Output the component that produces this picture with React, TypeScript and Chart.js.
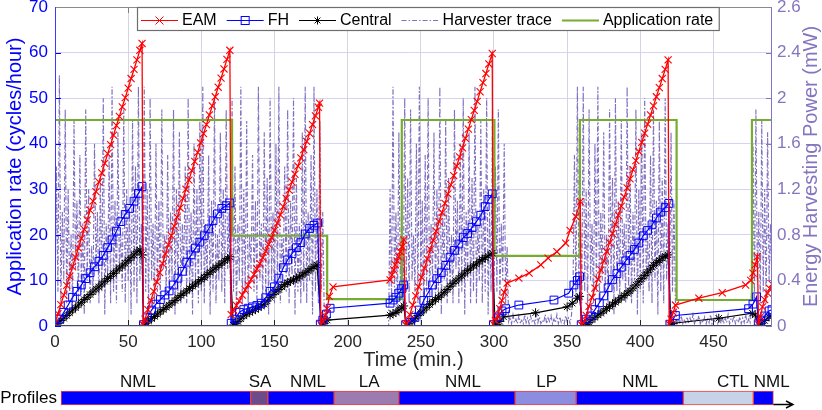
import React, { useEffect, useRef } from 'react';
import { Chart, registerables } from 'chart.js';

Chart.register(...registerables);

const FONT = "'Liberation Sans', Arial, Helvetica, sans-serif";
Chart.defaults.font.family = FONT;

// ---------------- data ----------------
const xTickValues = [0, 50, 100, 150, 200, 250, 300, 350, 400, 450];
const y2TickValues = [0, 0.4, 0.8, 1.2, 1.6, 2, 2.4, 2.8];
const y2TickLabels = ['0', '0.4', '0.8', '1.2', '1.6', '2', '2.4', '2.6'];

const eamTime = [
  0, 2, 4, 6, 8, 10, 12, 14, 16, 18, 20, 22, 24, 26, 28, 30, 32, 34, 36, 38, 40, 42, 44, 46, 48, 50, 52, 54, 56, 58, 59.5,
  60.3, 61.5, 63.5, 65.5, 67.5, 69.5, 71.5, 73.5, 75.5, 77.5, 79.5, 81.5, 83.5, 85.5, 87.5, 89.5, 91.5, 93.5, 95.5, 97.5, 99.5, 101.5, 103.5, 105.5, 107.5, 109.5, 111.5, 113.5, 115.5, 117.5, 119.5,
  120.4, 122, 124, 126, 128, 130, 132, 134, 136, 138, 140, 142, 144, 146, 148, 150, 152, 154, 156, 158, 160, 162, 164, 166, 168, 170, 172, 174, 176, 178, 180, 180.8,
  181.6, 183, 184.5, 186, 187.5, 190, 229, 230.3, 231.5, 232.6, 233.8, 234.9, 236, 237.2, 238.3,
  239.6, 240.5, 242.5, 244.5, 246.5, 248.5, 250.5, 252.5, 254.5, 256.5, 258.5, 260.5, 262.5, 264.5, 266.5, 268.5, 270.5, 272.5, 274.5, 276.5, 278.5, 280.5, 282.5, 284.5, 286.5, 288.5, 290.5, 292.5, 294.5, 296.5, 298.8,
  299.5, 301, 302.5, 304, 305.5, 307, 309, 317, 324, 332, 337, 343, 349, 352, 356, 359,
  359.6, 361, 363, 365, 367, 369, 371, 373, 375, 377, 379, 381, 383, 385, 387, 389, 391, 393, 395, 397, 399, 401, 403, 405, 407, 409, 411, 413, 415, 417, 419,
  419.7, 421, 422.5, 424, 440, 456, 472, 475.5, 477, 478.5, 480,
  480.8, 482, 483.5, 485, 487, 488.5, 490,
];
const eamRate = [
  0.6, 2.7, 4.7, 6.8, 8.9, 10.9, 13.0, 15.1, 17.1, 19.2, 21.2, 23.3, 25.4, 27.4, 29.5, 31.6, 33.6, 35.7, 37.8, 39.8, 41.9, 44.0, 46.0, 48.1, 50.1, 52.2, 54.3, 56.3, 58.4, 60.5, 62.0,
  0.3, 1.5, 3.6, 5.6, 7.6, 9.7, 11.7, 13.7, 15.8, 17.8, 19.8, 21.9, 23.9, 25.9, 28.0, 30.0, 32.0, 34.1, 36.1, 38.1, 40.2, 42.2, 44.2, 46.3, 48.3, 50.3, 52.4, 54.4, 56.4, 58.5, 60.5,
  2.5, 3.5, 4.5, 5.5, 6.8, 7.9, 9.0, 10.2, 11.3, 12.5, 13.7, 15.0, 16.4, 17.9, 19.4, 21.0, 22.6, 24.4, 26.2, 28.0, 29.8, 31.6, 33.3, 35.1, 36.9, 38.7, 40.5, 42.3, 44.2, 46.1, 48.0, 48.9,
  0.4, 0.9, 2.2, 3.8, 6.5, 8.6, 10.1, 11.2, 12.3, 13.4, 14.3, 15.2, 16.3, 17.4, 18.9,
  0.3, 0.5, 2.5, 4.6, 6.6, 8.6, 10.7, 12.7, 14.7, 16.8, 18.8, 20.8, 22.9, 24.9, 26.9, 29.0, 31.0, 33.0, 35.1, 37.1, 39.1, 41.2, 43.2, 45.3, 47.3, 49.3, 51.4, 53.4, 55.4, 57.5, 59.8,
  0.4, 1.2, 2.2, 3.8, 5.6, 7.4, 9.4, 10.5, 11.6, 13.4, 14.9, 16.3, 18.2, 21.0, 24.0, 27.3,
  0.3, 0.6, 2.3, 4.3, 6.3, 8.3, 10.3, 12.3, 14.3, 16.3, 18.3, 20.3, 22.3, 24.3, 26.3, 28.3, 30.3, 32.3, 34.3, 36.3, 38.3, 40.3, 42.3, 44.3, 46.3, 48.3, 50.3, 52.3, 54.3, 56.3, 58.4,
  0.4, 1.5, 3.0, 4.6, 6.1, 7.3, 9.0, 10.0, 11.6, 13.4, 15.2,
  0.4, 2.0, 4.2, 5.8, 7.2, 8.2, 9.2,
];

const fhTime = [
  0, 3, 6, 9, 12, 15, 18, 21, 24, 27, 30, 33, 36, 39, 42, 45, 48, 51, 54, 57, 59.5,
  60.4, 63, 66, 69, 72, 75, 78, 81, 84, 87, 90, 93, 96, 99, 102, 105, 108, 111, 114, 117, 119.5,
  120.4, 123, 126, 129, 132, 135, 138, 141, 144, 147, 150, 153, 156, 159, 162, 165, 168, 171, 174, 177, 179.5,
  181.3, 183, 185.5, 188, 229, 231, 233, 235, 237, 238.3,
  239.6, 243, 246, 249, 252, 255, 258, 261, 264, 267, 270, 273, 276, 279, 282, 285, 288, 291, 294, 296.5, 298.8,
  299.6, 303, 305.5, 308, 317, 341, 351, 354.6, 357, 358.5,
  359.6, 363, 366, 369, 372, 375, 378, 381, 384, 387, 390, 393, 396, 399, 402, 405, 408, 411, 414, 417, 419.5,
  420.2, 424, 474, 477, 479.5,
  480.6, 482.4, 485, 488, 490,
];
const fhRate = [
  0.2, 1.5, 3.0, 4.6, 6.3, 7.6, 9.0, 10.4, 11.7, 13.0, 14.2, 15.5, 17.2, 18.9, 20.8, 22.9, 24.5, 25.8, 27.4, 29.1, 30.6,
  0.3, 1.8, 3.5, 4.8, 5.8, 6.8, 7.7, 9.0, 10.5, 12.0, 14.0, 15.6, 17.1, 18.4, 19.8, 21.3, 23.1, 24.6, 25.8, 26.4, 27.0,
  0.6, 1.5, 3.0, 3.6, 3.9, 4.2, 4.5, 5.0, 6.2, 7.6, 8.6, 10.5, 12.8, 14.5, 15.9, 17.2, 18.3, 20.2, 21.4, 22.1, 22.6,
  0.4, 1.3, 2.6, 3.9, 5.0, 5.7, 6.3, 7.2, 8.2, 9.0,
  0.3, 0.8, 1.9, 3.5, 5.6, 7.3, 9.0, 10.4, 11.7, 13.3, 15.1, 16.6, 18.0, 19.4, 20.3, 21.6, 22.9, 24.3, 26.2, 27.8, 29.0,
  0.3, 2.0, 3.3, 3.8, 4.6, 5.7, 7.2, 9.0, 10.0, 10.8,
  0.3, 1.5, 2.2, 3.6, 5.1, 6.6, 8.4, 10.2, 11.5, 12.9, 14.3, 15.5, 16.8, 18.2, 19.8, 21.0, 22.2, 23.7, 25.0, 26.0, 26.9,
  0.4, 2.3, 3.8, 4.8, 6.4,
  0.5, 1.3, 2.2, 3.3, 3.6,
];

const centralTime = [
  0, 2, 4, 6, 8, 10, 12, 14, 16, 18, 20, 22, 24, 26, 28, 30, 32, 34, 36, 38, 40, 42, 44, 46, 48, 50, 52, 54, 56, 58, 59.5,
  60.6, 62, 64, 66, 68, 70, 72, 74, 76, 78, 80, 82, 84, 86, 88, 90, 92, 94, 96, 98, 100, 102, 104, 106, 108, 110, 112, 114, 116, 118, 119.5,
  121.8, 123.5, 125, 127, 129, 131, 133, 135, 137, 139, 141, 143, 145, 147, 149, 151, 153, 155, 157, 159, 161, 163, 165, 167, 169, 171, 173, 175, 177, 179,
  182.3, 184, 186, 229, 231, 233, 235, 237, 238.3,
  240, 242, 244, 246, 248, 250, 252, 254, 256, 258, 260, 262, 264, 266, 268, 270, 272, 274, 276, 278, 280, 282, 284, 286, 288, 290, 292, 294, 296, 298.8,
  300.8, 302, 304, 306.6, 328.4, 350, 353.5, 357, 358.5,
  360.5, 363, 365, 367, 369, 371, 373, 375, 377, 379, 381, 383, 385, 387, 389, 391, 393, 395, 397, 399, 401, 403, 405, 407, 409, 411, 413, 415, 417, 419,
  421, 422.5, 453.6, 476.6, 478.5,
  481, 483, 485, 488, 490,
];
const centralRate = [
  0, 0.6, 1.2, 1.7, 2.3, 2.9, 3.5, 4.0, 4.6, 5.2, 5.8, 6.3, 6.9, 7.5, 8.1, 8.6, 9.2, 9.8, 10.4, 10.9, 11.5, 12.1, 12.7, 13.2, 13.8, 14.4, 15.0, 15.6, 16.3, 16.7, 15.6,
  0.2, 0.6, 1.1, 1.6, 2.1, 2.6, 3.1, 3.6, 4.1, 4.6, 5.1, 5.6, 6.2, 6.7, 7.2, 7.7, 8.2, 8.7, 9.2, 9.7, 10.2, 10.7, 11.3, 11.8, 12.3, 12.8, 13.3, 13.8, 14.3, 14.8, 15.2,
  0.2, 0.5, 1.0, 1.6, 2.2, 2.6, 3.0, 3.3, 3.6, 4.0, 4.4, 4.8, 5.5, 6.3, 6.9, 7.5, 8.0, 8.6, 9.1, 9.5, 9.8, 10.1, 10.5, 10.8, 11.2, 11.7, 12.1, 12.6, 13.0, 13.4,
  0.1, 0.6, 1.3, 2.4, 2.7, 3.0, 3.5, 4.0, 4.4,
  0.1, 0.5, 1.1, 1.6, 2.3, 2.9, 3.5, 4.1, 4.7, 5.3, 5.8, 6.3, 6.8, 7.4, 8.0, 8.7, 9.3, 9.9, 10.5, 11.0, 11.6, 12.2, 12.7, 13.2, 13.6, 14.1, 14.6, 15.0, 15.4, 16.0,
  0.1, 0.3, 1.0, 2.0, 2.9, 4.2, 5.0, 6.1, 6.5,
  0.1, 0.3, 0.8, 1.4, 1.9, 2.4, 2.8, 3.3, 3.8, 4.3, 4.8, 5.2, 5.7, 6.2, 6.7, 7.2, 7.7, 8.3, 9.0, 9.7, 10.4, 11.1, 11.8, 12.5, 13.3, 13.9, 14.4, 14.9, 15.3, 15.6,
  0.2, 0.6, 1.7, 2.8, 2.4,
  0.2, 0.6, 1.2, 2.0, 2.3,
];

const appTime = [0, 121, 121, 186, 186, 237, 237, 300.3, 300.3, 358.7, 358.7, 424.8, 424.8, 476.3, 476.3, 490];
const appRate = [45.2, 45.2, 19.8, 19.8, 5.9, 5.9, 45.2, 45.2, 15.4, 15.4, 45.2, 45.2, 5.7, 5.7, 45.2, 45.2];

// harvester power (mW), one sample per minute starting at t = 0
const harvesterStepMin = 1;
const harvesterPower = [
  // 0-184
  0.1, 1.4, 0.3, 2.2, 0.2, 1.0, 0.4, 1.9, 0.2, 1.2,
  0.3, 0.8, 0.2, 1.8, 0.5, 1.1, 0.2, 1.5, 0.3, 0.9,
  0.1, 1.9, 0.4, 1.2, 0.2, 0.7, 0.3, 1.6, 0.5, 1.0,
  0.2, 1.3, 0.3, 2.0, 0.1, 0.9, 0.4, 1.5, 0.2, 2.1,
  0.3, 1.1, 0.2, 1.7, 0.5, 0.8, 0.3, 1.9, 0.2, 1.2,
  0.4, 1.0, 0.1, 1.8, 0.3, 1.4, 0.2, 2.1, 0.4, 0.9,
  0.2, 2.1, 0.3, 1.2, 0.1, 2.0, 0.4, 0.9, 0.2, 1.6,
  0.3, 1.1, 0.2, 1.9, 0.5, 0.8, 0.3, 1.5, 0.2, 1.0,
  0.4, 1.9, 0.1, 1.2, 0.3, 1.7, 0.2, 0.9, 0.5, 1.4,
  0.2, 2.0, 0.3, 1.0, 0.1, 1.6, 0.4, 1.2, 0.2, 1.8,
  0.3, 2.1, 0.2, 0.9, 0.4, 1.5, 0.1, 1.1, 0.3, 2.0,
  0.2, 0.8, 0.4, 1.7, 0.3, 1.2, 0.2, 1.9, 0.5, 1.0,
  0.2, 2.0, 0.3, 1.4, 0.1, 0.9, 0.4, 2.1, 0.2, 1.2,
  0.3, 1.8, 0.2, 0.8, 0.5, 1.5, 0.3, 1.1, 0.2, 2.1,
  0.4, 0.9, 0.2, 1.7, 0.3, 1.3, 0.1, 2.0, 0.4, 1.0,
  0.2, 1.6, 0.3, 2.1, 0.2, 0.8, 0.5, 1.4, 0.3, 1.9,
  0.2, 1.1, 0.4, 2.0, 0.1, 1.3, 0.3, 0.9, 0.2, 1.7,
  0.3, 2.1, 0.2, 1.0, 0.4, 1.5, 0.1, 2.1, 0.3, 1.2,
  0.2, 1.8, 0.3, 1.0, 0.1,
  // 185-228
  0, 0, 0, 0, 0, 0, 0, 0, 0, 0,
  0, 0, 0, 0, 0, 0, 0, 0, 0, 0,
  0, 0, 0, 0, 0, 0, 0, 0, 0, 0,
  0, 0, 0, 0, 0, 0, 0, 0, 0, 0,
  0, 0, 0, 0,
  // 229-309
  1.2, 0.2, 2.1, 0.3, 1.0, 0.1, 1.7, 0.4, 0.9, 0.2, 2.0,
  0.3, 1.3, 0.2, 1.9, 0.4, 0.8, 0.3, 1.6, 0.2, 2.1,
  0.4, 1.1, 0.1, 1.5, 0.3, 2.0, 0.2, 0.9, 0.4, 1.7,
  0.2, 1.2, 0.3, 2.1, 0.1, 1.0, 0.4, 1.8, 0.2, 1.3,
  0.3, 0.8, 0.2, 1.9, 0.5, 1.1, 0.2, 1.6, 0.3, 2.0,
  0.1, 1.0, 0.4, 1.7, 0.2, 1.3, 0.3, 2.1, 0.2, 0.9,
  0.4, 1.8, 0.2, 1.2, 0.3, 2.0, 0.1, 1.0, 0.3, 1.9,
  0.2, 1.4, 0.3, 1.9, 0.2, 0.9, 0.4, 1.6, 0.2, 0.7,
  // 310-353
  0.04, 0.08, 0.02, 0.10, 0.03, 0.06, 0.02, 0.09, 0.03, 0.05,
  0.02, 0.10, 0.03, 0.07, 0.02, 0.09, 0.04, 0.06, 0.02, 0.10,
  0.03, 0.08, 0.02, 0.05, 0.03, 0.10, 0.02, 0.07, 0.04, 0.09,
  0.02, 0.06, 0.03, 0.10, 0.02, 0.08, 0.03, 0.05, 0.02, 0.09,
  0.04, 0.07, 0.02, 0.10,
  // 354-424
  0.3, 1.5, 0.2, 2.1, 0.4, 1.0,
  0.2, 2.1, 0.3, 1.2, 0.1, 1.9, 0.4, 0.9, 0.2, 1.6,
  0.3, 2.1, 0.2, 1.0, 0.4, 1.7, 0.3, 0.8, 0.2, 1.9,
  0.4, 1.3, 0.1, 2.0, 0.3, 1.1, 0.2, 1.8, 0.4, 0.9,
  0.2, 2.1, 0.3, 1.4, 0.2, 1.0, 0.4, 1.9, 0.1, 1.2,
  0.3, 1.7, 0.2, 2.0, 0.4, 0.8, 0.3, 1.5, 0.2, 1.9,
  0.4, 1.1, 0.1, 1.8, 0.3, 1.3, 0.2, 2.0, 0.4, 0.9,
  0.2, 1.7, 0.3, 1.1, 0.2,
  // 425-475
  0.02, 0.06, 0.03, 0.09, 0.02, 0.05, 0.03, 0.08, 0.02, 0.07,
  0.03, 0.10, 0.02, 0.06, 0.04, 0.09, 0.02, 0.05, 0.03, 0.08,
  0.02, 0.07, 0.03, 0.10, 0.02, 0.06, 0.04, 0.09, 0.02, 0.05,
  0.03, 0.08, 0.02, 0.07, 0.03, 0.10, 0.02, 0.06, 0.04, 0.09,
  0.02, 0.05, 0.03, 0.08, 0.02, 0.07, 0.03, 0.10, 0.02, 0.06,
  0.03,
  // 476-490
  0.3, 1.6, 0.2, 1.9, 0.4, 1.0, 0.2, 1.8, 0.3, 1.2, 0.2, 1.7, 0.4, 0.9, 0.3,
];

// profiles timeline (same minute units as the time axis)
const profileRow = ['Profiles'];
const profileNames = ['NML', 'SA', 'NML', 'LA', 'NML', 'LP', 'NML', 'CTL', 'NML'];
const profileStart = [4.1, 133.7, 145.4, 190.7, 234.9, 314.4, 356.1, 429.4, 477.2];
const profileEnd = [133.7, 145.4, 190.7, 234.9, 314.4, 356.1, 429.4, 477.2, 490.9];
const profileLabelAt = [56.7, 140.1, 172.9, 214.6, 278.8, 336.0, 399.8, 463.3, 489.8];
const profileArrowEnd = 504.3;
const profileColors = ['#0000FF', '#6B4B8A', '#0000FF', '#9C7BB0', '#0000FF', '#8C8CE0', '#0000FF', '#C6D2E8', '#0000FF'];

// ---------------- styling ----------------
const BLUE = '#0000FF';
const PURPLE = '#8575C0';
const TRACE = 'rgba(112,92,184,0.88)';
const GREEN = '#77AC30';
const DARK = '#262626';

const pts = (xs: number[], ys: number[]) => xs.map((x, i) => ({ x, y: ys[i] }));

function drawMarker(ctx: CanvasRenderingContext2D, style: string, x: number, y: number) {
  const r = 4;
  ctx.beginPath();
  if (style === 'crossRot') {
    ctx.moveTo(x - r, y - r); ctx.lineTo(x + r, y + r);
    ctx.moveTo(x - r, y + r); ctx.lineTo(x + r, y - r);
    ctx.stroke();
  } else if (style === 'rect') {
    ctx.strokeRect(x - r, y - r, 2 * r, 2 * r);
  } else if (style === 'star') {
    ctx.moveTo(x - r, y); ctx.lineTo(x + r, y);
    ctx.moveTo(x, y - r); ctx.lineTo(x, y + r);
    const d = r * 0.72;
    ctx.moveTo(x - d, y - d); ctx.lineTo(x + d, y + d);
    ctx.moveTo(x - d, y + d); ctx.lineTo(x + d, y - d);
    ctx.stroke();
  }
}

const mainDecor = {
  id: 'mainDecor',
  beforeDraw(chart: any) {
    const { ctx, width, height } = chart;
    ctx.save();
    ctx.fillStyle = '#ffffff';
    ctx.fillRect(0, 0, width, height);
    ctx.restore();
  },
  afterDraw(chart: any) {
    const { ctx, chartArea: a, scales } = chart;
    ctx.save();
    ctx.lineWidth = 1;
    const line = (x1: number, y1: number, x2: number, y2: number, c: string) => {
      ctx.strokeStyle = c;
      ctx.beginPath();
      ctx.moveTo(x1, y1);
      ctx.lineTo(x2, y2);
      ctx.stroke();
    };
    const tl = 6;
    scales.x.ticks.forEach((t: any) => {
      const px = Math.round(scales.x.getPixelForValue(t.value)) + 0.5;
      line(px, a.bottom, px, a.bottom - tl, DARK);
      line(px, a.top, px, a.top + tl, '#808080');
    });
    scales.y.ticks.forEach((t: any) => {
      const py = Math.round(scales.y.getPixelForValue(t.value)) + 0.5;
      line(a.left, py, a.left + tl, py, BLUE);
    });
    scales.y2.ticks.forEach((t: any) => {
      const py = Math.round(scales.y2.getPixelForValue(t.value)) + 0.5;
      line(a.right, py, a.right - tl, py, PURPLE);
    });
    const L = Math.round(a.left) + 0.5, R = Math.round(a.right) - 0.5;
    const T = Math.round(a.top) + 0.5, B = Math.round(a.bottom) - 0.5;
    line(L, T, R, T, '#8a8a8a');
    line(L, B, R, B, '#4a4a4a');
    line(L, T, L, B, '#3a3aff');
    line(R, T, R, B, PURPLE);

    // legend
    ctx.font = `16px ${FONT}`;
    const boxL = 137.5, boxT = 7.5, boxB = 30.5, cy = 20;
    let cur = 141;
    const items = chart.data.datasets.map((ds: any) => ({
      label: ds.label, color: ds.borderColor, dash: ds.borderDash || [], width: ds.borderWidth,
      marker: ds.pointRadius > 0 ? ds.pointStyle : null,
    }));
    const layout: any[] = [];
    items.forEach((it: any) => {
      const w = ctx.measureText(it.label).width;
      layout.push({ ...it, x: cur, w });
      cur += 41 + w + 10;
    });
    const boxR = cur - 10 + 6;
    ctx.fillStyle = '#ffffff';
    ctx.fillRect(boxL, boxT, boxR - boxL, boxB - boxT);
    ctx.strokeStyle = '#6e6e6e';
    ctx.lineWidth = 1.2;
    ctx.strokeRect(boxL, boxT, boxR - boxL, boxB - boxT);
    layout.forEach((it) => {
      ctx.save();
      ctx.strokeStyle = it.color;
      ctx.lineWidth = it.label === 'Application rate' ? 2.2 : 1.2;
      ctx.setLineDash(it.dash);
      ctx.beginPath();
      ctx.moveTo(it.x, cy + 0.5);
      ctx.lineTo(it.x + 37, cy + 0.5);
      ctx.stroke();
      ctx.setLineDash([]);
      ctx.lineWidth = 1;
      if (it.marker) drawMarker(ctx, it.marker, it.x + 18.5, cy + 0.5);
      ctx.restore();
      ctx.fillStyle = '#000000';
      ctx.textBaseline = 'middle';
      ctx.textAlign = 'left';
      ctx.fillText(it.label, it.x + 41, cy + 1);
    });

    // right axis title (reads bottom to top)
    ctx.save();
    ctx.translate(811, (a.top + a.bottom) / 2);
    ctx.rotate(-Math.PI / 2);
    ctx.font = `20px ${FONT}`;
    ctx.fillStyle = PURPLE;
    ctx.textAlign = 'center';
    ctx.textBaseline = 'middle';
    ctx.fillText('Energy Harvesting Power (mW)', 0, 0);
    ctx.restore();
    ctx.restore();
  },
};

const profileDecor = {
  id: 'profileDecor',
  afterDraw(chart: any) {
    const { ctx, scales } = chart;
    ctx.save();
    ctx.font = `17px ${FONT}`;
    ctx.fillStyle = '#111111';
    ctx.textAlign = 'center';
    ctx.textBaseline = 'middle';
    let barTop = 0, barBottom = 0;
    profileNames.forEach((name, i) => {
      const el = chart.getDatasetMeta(i).data[0] as any;
      barTop = el.y - el.height / 2;
      barBottom = el.y + el.height / 2;
      ctx.fillText(name, scales.x.getPixelForValue(profileLabelAt[i]), barTop - 9);
    });
    const x1 = scales.x.getPixelForValue(profileEnd[profileEnd.length - 1]);
    const x2 = scales.x.getPixelForValue(profileArrowEnd);
    const y = Math.round(barBottom) - 0.5;
    ctx.strokeStyle = '#000000';
    ctx.lineWidth = 1.4;
    ctx.beginPath();
    ctx.moveTo(x1, y);
    ctx.lineTo(x2, y);
    ctx.moveTo(x2 - 7, y - 3.5);
    ctx.lineTo(x2, y);
    ctx.lineTo(x2 - 7, y + 3.5);
    ctx.stroke();
    ctx.restore();
  },
};

export default function App() {
  const mainRef = useRef<HTMLCanvasElement>(null);
  const profRef = useRef<HTMLCanvasElement>(null);

  useEffect(() => {
    const main = new Chart(mainRef.current as HTMLCanvasElement, {
      type: 'line',
      data: {
        datasets: [
          {
            label: 'EAM', data: pts(eamTime, eamRate), yAxisID: 'y', order: 1,
            borderColor: '#FF0000', backgroundColor: '#FF0000', borderWidth: 1.3,
            pointStyle: 'crossRot', pointRadius: 5, pointBorderWidth: 1.1, pointBorderColor: '#FF0000',
          },
          {
            label: 'FH', data: pts(fhTime, fhRate), yAxisID: 'y', order: 2,
            borderColor: BLUE, backgroundColor: 'rgba(0,0,0,0)', borderWidth: 1.2,
            pointStyle: 'rect', pointRadius: 5.5, pointBorderWidth: 1, pointBorderColor: BLUE,
            pointBackgroundColor: 'rgba(0,0,0,0)',
          },
          {
            label: 'Central', data: pts(centralTime, centralRate), yAxisID: 'y', order: 3,
            borderColor: '#000000', backgroundColor: '#000000', borderWidth: 1.2,
            pointStyle: 'star', pointRadius: 4.5, pointBorderWidth: 1, pointBorderColor: '#000000',
          },
          {
            label: 'Harvester trace',
            data: harvesterPower.map((p, i) => ({ x: i * harvesterStepMin, y: p })),
            yAxisID: 'y2', order: 5,
            borderColor: TRACE, borderWidth: 1.15, borderDash: [5, 2, 1.5, 2], pointRadius: 0,
          },
          {
            label: 'Application rate', data: pts(appTime, appRate), yAxisID: 'y', order: 4,
            borderColor: GREEN, borderWidth: 2.2, pointRadius: 0,
          },
        ] as any,
      },
      options: {
        responsive: false,
        animation: false,
        events: [],
        layout: { padding: { top: 7, left: 0, right: 0, bottom: 0 } },
        plugins: { legend: { display: false }, tooltip: { enabled: false } },
        scales: {
          x: {
            type: 'linear', min: 0, max: 490,
            afterBuildTicks: (s: any) => { s.ticks = xTickValues.map((v) => ({ value: v })); },
            ticks: { color: DARK, font: { size: 17 }, padding: 6, maxRotation: 0, autoSkip: false },
            grid: { color: 'rgba(185,185,205,0.6)', drawTicks: false },
            border: { display: false },
            title: { display: true, text: 'Time (min.)', color: DARK, font: { size: 20 }, padding: { top: 0, bottom: 0 } },
            afterFit: (s: any) => { s.height = 46; s.paddingLeft = 0; s.paddingRight = 0; },
          },
          y: {
            type: 'linear', position: 'left', min: 0, max: 70,
            ticks: { stepSize: 10, color: BLUE, font: { size: 17 }, padding: 7 },
            grid: { color: 'rgba(205,205,245,0.85)', drawTicks: false },
            border: { display: false },
            title: { display: true, text: 'Application rate (cycles/hour)', color: BLUE, font: { size: 20 }, padding: { top: 3, bottom: 0 } },
            afterFit: (s: any) => { s.width = 55; s.paddingTop = 0; s.paddingBottom = 0; },
          },
          y2: {
            type: 'linear', position: 'right', min: 0, max: 2.8,
            afterBuildTicks: (s: any) => { s.ticks = y2TickValues.map((v) => ({ value: v })); },
            ticks: { color: PURPLE, font: { size: 17 }, padding: 5, callback: (_v: any, i: number) => y2TickLabels[i] },
            grid: { display: false, drawTicks: false },
            border: { display: false },
            afterFit: (s: any) => { s.width = 50; s.paddingTop = 0; s.paddingBottom = 0; },
          },
        } as any,
      },
      plugins: [mainDecor],
    });

    const prof = new Chart(profRef.current as HTMLCanvasElement, {
      type: 'bar',
      data: {
        labels: profileRow,
        datasets: profileNames.map((n, i) => ({
          label: n,
          data: [[profileStart[i], profileEnd[i]]],
          backgroundColor: profileColors[i],
          borderColor: '#F04040',
          borderWidth: 1,
          borderSkipped: false,
          barThickness: 14,
          grouped: false,
        })) as any,
      },
      options: {
        indexAxis: 'y',
        responsive: false,
        animation: false,
        events: [],
        layout: { padding: { top: 24, right: 35.3, bottom: 0, left: 0 } },
        plugins: { legend: { display: false }, tooltip: { enabled: false } },
        scales: {
          x: { type: 'linear', min: 2, max: 500, display: false },
          y: {
            type: 'category',
            grid: { display: false, drawTicks: false },
            border: { display: false },
            ticks: { color: '#000000', font: { size: 17 }, padding: 1 },
            afterFit: (s: any) => { s.width = 58; s.paddingTop = 0; s.paddingBottom = 0; },
          },
        } as any,
      },
      plugins: [profileDecor],
    });

    return () => {
      main.destroy();
      prof.destroy();
    };
  }, []);

  return (
    <div style={{ position: 'absolute', left: 0, top: 0, width: 822, height: 410, background: '#ffffff' }}>
      <canvas ref={mainRef} width={822} height={372} style={{ position: 'absolute', left: 0, top: 0 }} />
      <canvas ref={profRef} width={822} height={48} style={{ position: 'absolute', left: 0, top: 362 }} />
    </div>
  );
}
